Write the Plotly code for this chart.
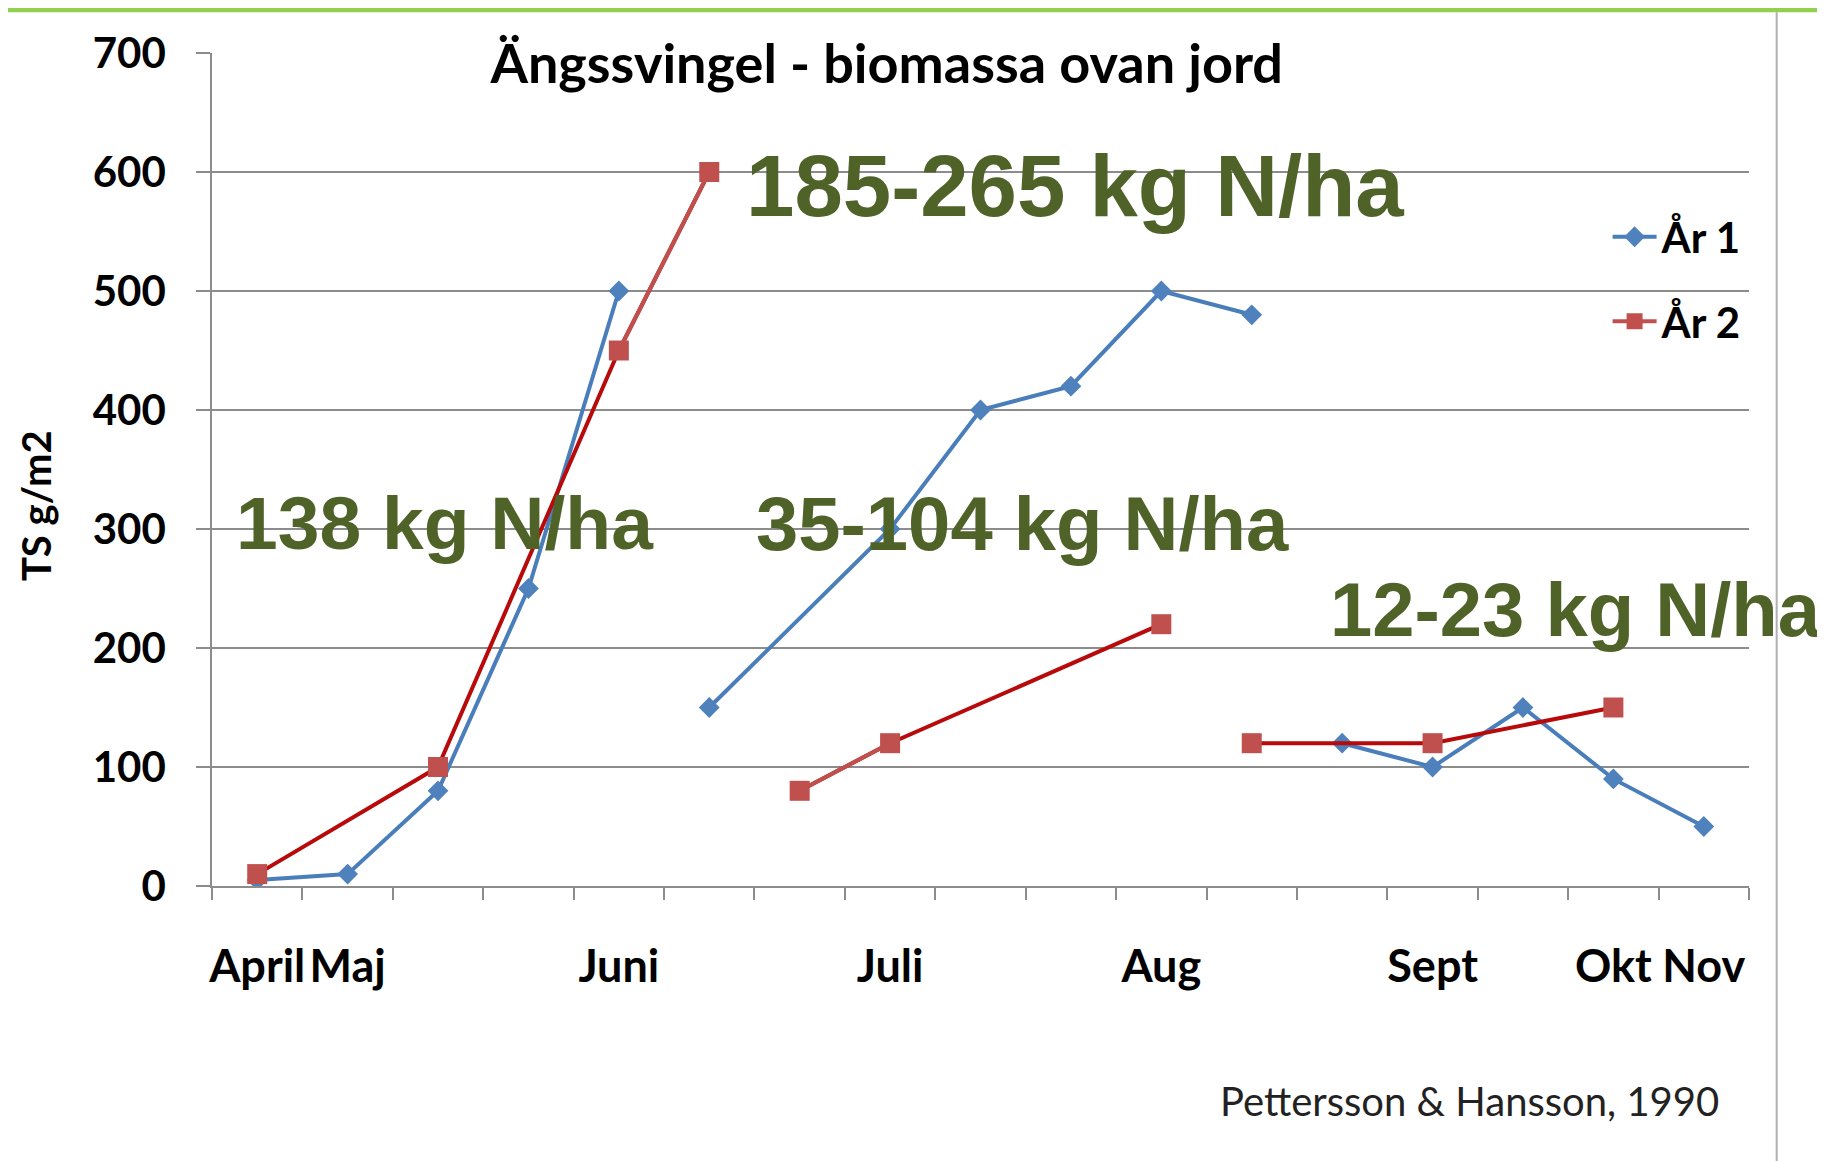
import plotly.graph_objects as go

# provtagningar april - november (17 st), tom = ingen etikett
manader = ["April", "Maj", "", "", "Juni", "", "", "Juli", "", "",
           "Aug", "", "", "Sept", "", "Okt", "Nov"]

# TS g/m2, None = inget prov den gången
ar1 = [5, 10, 80, 250, 500, 150, None, 300, 400, 420, 500, 480,
       120, 100, 150, 90, 50]
ar2 = [10, None, 100, None, 450, 600, 80, 120, None, None, 220,
       120, None, 120, None, 150, None]

# index där en ny tillväxtperiod börjar (linjen bryts där)
ar1_start = [0, 5, 12]
ar2_start = [0, 6, 11]

# kvävetexter
n_texter = ["138 kg N/ha", "185-265 kg N/ha", "35-104 kg N/ha", "12-23 kg N/ha"]

x = list(range(len(manader)))

BLA = "#4A7EBB"
ROD = "#C0504D"
MORKROD = "#B80A0A"
GRON = "#4F6228"
GRA = "#8C8C8C"


def perioder(starts, n):
    ends = starts[1:] + [n]
    return list(zip(starts, ends))


fig = go.Figure()

# År 1
for i, (a, b) in enumerate(perioder(ar1_start, len(x))):
    fig.add_trace(go.Scatter(
        x=x[a:b], y=ar1[a:b], name="<b>År 1</b>", legendgroup="ar1",
        showlegend=(i == 0), connectgaps=True, mode="lines+markers",
        line=dict(color=BLA, width=4),
        marker=dict(symbol="diamond", size=16, color="#4F81BD")))

# År 2: mörk linje över hoppade prov, ljus mellan intilliggande
for i, (a, b) in enumerate(perioder(ar2_start, len(x))):
    fig.add_trace(go.Scatter(
        x=x[a:b], y=ar2[a:b], showlegend=False, legendgroup="ar2",
        connectgaps=True, mode="lines", hoverinfo="skip",
        line=dict(color=MORKROD, width=4)))
    fig.add_trace(go.Scatter(
        x=x[a:b], y=ar2[a:b], name="<b>År 2</b>", legendgroup="ar2",
        showlegend=(i == 0), connectgaps=False, mode="lines+markers",
        line=dict(color=ROD, width=4),
        marker=dict(symbol="square", size=20, color=ROD)))

# kvävetexter i diagrammet
pos = [(2.08, 305, 75), (9.05, 589, 87), (8.47, 305, 76), (14.58, 232, 76)]
for txt, (px, py, fs) in zip(n_texter, pos):
    fig.add_annotation(x=px, y=py, text="<b>%s</b>" % txt, showarrow=False,
                       xanchor="center", yanchor="middle",
                       font=dict(family="Liberation Sans", size=fs, color=GRON))

fig.add_annotation(x=0.818, y=-0.258, xref="paper", yref="paper",
                   xanchor="center", yanchor="middle",
                   text="Pettersson & Hansson, 1990", showarrow=False,
                   font=dict(family="Lato", size=40, color="#222222"))

# y-axelns rubrik
fig.add_annotation(x=-0.114, y=0.457, xref="paper", yref="paper",
                   xanchor="center", yanchor="middle", textangle=-90,
                   text="<b>TS g/m2</b>", showarrow=False,
                   font=dict(family="Lato", size=40, color="black"))

# grön list överst och ram
fig.add_shape(type="rect", xref="paper", yref="paper",
              x0=-0.2, x1=1.06, y0=1.049, y1=1.06,
              fillcolor="#92D050", line_width=0, layer="below")
fig.add_shape(type="line", xref="paper", yref="paper",
              x0=1.018, x1=1.018, y0=1.049, y1=-0.33,
              line=dict(color="#B0B0B0", width=2))

fig.update_layout(
    width=1817, height=1153,
    margin=dict(l=204, r=76, t=45, b=274.5),
    paper_bgcolor="white", plot_bgcolor="white",
    font=dict(family="Lato", color="black"),
    title=dict(text="<b>Ängssvingel - biomassa ovan jord</b>",
               x=0.439, xref="paper", xanchor="center",
               y=1 - 56 / 1153, yref="container", yanchor="middle",
               font=dict(family="Lato", size=54, color="black")),
    legend=dict(x=0.908, y=0.82, xanchor="left", yanchor="top",
                bgcolor="rgba(0,0,0,0)", tracegroupgap=27, itemwidth=44,
                font=dict(family="Lato", size=42, color="black")),
    showlegend=True,
)

fig.update_xaxes(range=[-0.5, len(x) - 0.5],
                 tickvals=[i for i in x if manader[i]],
                 ticktext=["<b>%s</b>" % m for m in manader if m],
                 ticks="", showgrid=False, zeroline=False,
                 showline=True, linecolor=GRA, linewidth=1.5,
                 ticklabelstandoff=40,
                 tickfont=dict(family="Lato", size=45, color="black"),
                 minor=dict(tickvals=[i - 0.5 for i in range(len(x) + 1)],
                            ticks="outside", ticklen=12, tickcolor=GRA,
                            tickwidth=1.5, showgrid=False))

fig.update_yaxes(range=[0, 700], dtick=100, showgrid=True, gridcolor=GRA,
                 gridwidth=1.5, zeroline=False, showline=True, linecolor=GRA,
                 linewidth=1.5, ticks="outside", ticklen=14, tickcolor=GRA,
                 tickwidth=1.5, ticklabelstandoff=22,
                 tickfont=dict(family="Lato", size=42, color="black"),
                 tickprefix="<b>", ticksuffix="</b>")

fig.write_html("out.html")
